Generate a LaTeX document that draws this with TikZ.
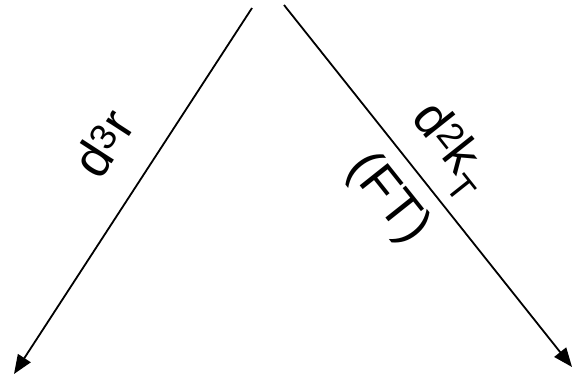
\documentclass[tikz,border=0pt]{standalone}
\usepackage{fontspec}
\setmainfont{Liberation Sans}
\usetikzlibrary{arrows.meta}

\begin{document}
\begin{tikzpicture}[x=1pt,y=-1pt,>={Triangle[length=19pt,width=15pt]}]
\tikzstyle{lbl}=[font=\fontsize{52}{58}\selectfont,inner sep=0pt]
\tikzstyle{arr}=[->,line width=1.8pt]
\useasboundingbox (0,0) rectangle (577,382);
% two arrows from the top
\coordinate (topL) at (252,8);
\coordinate (endL) at (14,374);
\coordinate (topR) at (284,5);
\coordinate (endR) at (572,367);
\draw[arr] (topL)--(endL);
\draw[arr] (topR)--(endR);
% labels along the arrows
\node[lbl,rotate=57] (rl) at (103,143) {d\textsuperscript{3}r};
\node[lbl,rotate=-51.5] (kl) at (449,150) {d\textsuperscript{2}k\textsubscript{T}};
\node[lbl,rotate=-51.5] (ft) at (388,199) {(FT)};
\end{tikzpicture}
\end{document}
